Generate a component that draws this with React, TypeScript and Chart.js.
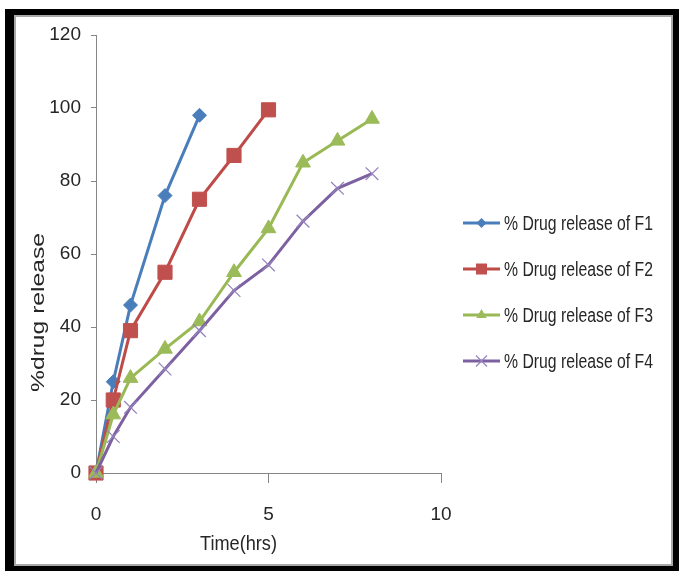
import React, { useEffect, useRef } from 'react';
import { Chart, registerables } from 'chart.js';

Chart.register(...registerables);

// ---------- data ----------
const TIME_F1 = [0, 0.5, 1, 2, 3];
const RELEASE_F1 = [0, 25, 46, 76, 98];
const TIME_F2 = [0, 0.5, 1, 2, 3, 4, 5];
const RELEASE_F2 = [0, 20, 39, 55, 75, 87, 99.5];
const TIME_F3_F4 = [0, 0.5, 1, 2, 3, 4, 5, 6, 7, 8];
const RELEASE_F3 = [0, 16, 26, 34, 41.5, 55, 67, 85, 91, 97];
const RELEASE_F4 = [0, 10, 18, 28.5, 39, 50, 57, 69, 78, 82];
const SERIES_LABELS = [
  '% Drug release of F1',
  '% Drug release of F2',
  '% Drug release of F3',
  '% Drug release of F4',
];
const X_TITLE = 'Time(hrs)';
const Y_TITLE = '%drug release';
const X_RANGE = [0, 10];
const X_STEP = 5;
const Y_RANGE = [0, 120];
const Y_STEP = 20;

// ---------- styles ----------
const COLORS = ['#4A7EBB', '#BE4B48', '#98B954', '#7D60A0'];
const MARKER_FILL = ['#4A7EBB', '#C0504D', '#9BBB59', '#9484BD'];
const MARKERS = ['rectRot', 'rect', 'triangle', 'crossRot'];
const MARKER_R = [7, 10, 8.5, 9];
const TEXT = '#262626';
const AXIS = '#868686';
const SANS = "'Liberation Sans', Arial, sans-serif";
const TICK_FONT = "'Liberation Sans', Arial, sans-serif";

function pts(xs: number[], ys: number[]) {
  return xs.map((x, i) => ({ x, y: ys[i] }));
}

function drawLegendMarker(ctx: CanvasRenderingContext2D, kind: string, x: number, y: number, color: string) {
  ctx.save();
  ctx.fillStyle = color;
  ctx.strokeStyle = color;
  ctx.beginPath();
  if (kind === 'rectRot') {
    const r = 5;
    ctx.moveTo(x, y - r);
    ctx.lineTo(x + r, y);
    ctx.lineTo(x, y + r);
    ctx.lineTo(x - r, y);
    ctx.closePath();
    ctx.fill();
  } else if (kind === 'rect') {
    const s = 5.5;
    ctx.rect(x - s, y - s, 2 * s, 2 * s);
    ctx.fill();
  } else if (kind === 'triangle') {
    const r = 6;
    ctx.moveTo(x, y - r);
    ctx.lineTo(x + r * 0.866, y + r * 0.5);
    ctx.lineTo(x - r * 0.866, y + r * 0.5);
    ctx.closePath();
    ctx.fill();
  } else {
    const s = 5.5;
    ctx.lineWidth = 1.2;
    ctx.moveTo(x - s, y - s);
    ctx.lineTo(x + s, y + s);
    ctx.moveTo(x + s, y - s);
    ctx.lineTo(x - s, y + s);
    ctx.stroke();
  }
  ctx.restore();
}

const textPlugin = {
  id: 'excelText',
  afterDraw(chart: any) {
    const ctx: CanvasRenderingContext2D = chart.ctx;
    const area = chart.chartArea;
    ctx.save();
    ctx.fillStyle = TEXT;

    // Y title (rotated, stretched along its length)
    ctx.font = `18px ${SANS}`;
    const yw = ctx.measureText(Y_TITLE).width;
    ctx.save();
    ctx.translate(44, area.top + 277.5);
    ctx.rotate(-Math.PI / 2);
    ctx.scale(159 / yw, 1);
    ctx.textAlign = 'center';
    ctx.textBaseline = 'alphabetic';
    ctx.fillText(Y_TITLE, 0, 0);
    ctx.restore();

    // X title
    ctx.font = `21px ${SANS}`;
    const xw = ctx.measureText(X_TITLE).width;
    ctx.save();
    ctx.translate(238.5, area.bottom + 77);
    ctx.scale(77 / xw, 1);
    ctx.textAlign = 'center';
    ctx.textBaseline = 'alphabetic';
    ctx.fillText(X_TITLE, 0, 0);
    ctx.restore();

    // Legend
    ctx.font = `20px ${SANS}`;
    const lw = ctx.measureText(SERIES_LABELS[0]).width;
    const sx = 149 / lw;
    chart.data.datasets.forEach((ds: any, i: number) => {
      const y = area.top + 188 + i * 46;
      const x0 = area.right + 22;
      ctx.save();
      ctx.strokeStyle = ds.borderColor;
      ctx.lineWidth = 3;
      ctx.beginPath();
      ctx.moveTo(x0, y);
      ctx.lineTo(x0 + 37, y);
      ctx.stroke();
      ctx.restore();
      drawLegendMarker(ctx, ds.pointStyle, x0 + 18.5, y, ds.pointBackgroundColor);
      ctx.save();
      ctx.translate(x0 + 41, y + 7);
      ctx.scale(sx, 1);
      ctx.fillStyle = TEXT;
      ctx.textAlign = 'left';
      ctx.textBaseline = 'alphabetic';
      ctx.fillText(ds.label, 0, 0);
      ctx.restore();
    });
    ctx.restore();
  },
};

function makeDataset(i: number, data: { x: number; y: number }[], order: number) {
  const cross = MARKERS[i] === 'crossRot';
  return {
    label: SERIES_LABELS[i],
    data,
    borderColor: COLORS[i],
    backgroundColor: COLORS[i],
    borderWidth: 3,
    tension: 0,
    pointStyle: MARKERS[i],
    pointRadius: MARKER_R[i],
    pointBackgroundColor: MARKER_FILL[i],
    pointBorderColor: MARKER_FILL[i],
    pointBorderWidth: cross ? 1.3 : 1,
    pointHoverRadius: MARKER_R[i],
    clip: false,
    order,
  };
}

export default function App() {
  const ref = useRef<HTMLCanvasElement | null>(null);

  useEffect(() => {
    if (!ref.current) return;
    const chart = new Chart(ref.current, {
      type: 'line',
      data: {
        datasets: [
          makeDataset(0, pts(TIME_F1, RELEASE_F1), 3),
          makeDataset(1, pts(TIME_F2, RELEASE_F2), 2),
          makeDataset(2, pts(TIME_F3_F4, RELEASE_F3), 1),
          makeDataset(3, pts(TIME_F3_F4, RELEASE_F4), 0),
        ],
      },
      options: {
        responsive: false,
        animation: false,
        devicePixelRatio: 1,
        layout: { padding: { left: 0, top: 35, right: 238, bottom: 0 } },
        plugins: {
          legend: { display: false },
          tooltip: { enabled: false },
          title: { display: false },
        },
        scales: {
          x: {
            type: 'linear',
            min: X_RANGE[0],
            max: X_RANGE[1],
            afterFit: (s: any) => {
              s.height = 98;
            },
            ticks: {
              stepSize: X_STEP,
              padding: 20,
              color: TEXT,
              font: { family: TICK_FONT, size: 19 },
              maxRotation: 0,
            },
            grid: {
              drawOnChartArea: false,
              drawTicks: true,
              tickLength: 10,
              color: AXIS,
              lineWidth: 1,
            },
            border: { color: AXIS, width: 1 },
          },
          y: {
            type: 'linear',
            min: Y_RANGE[0],
            max: Y_RANGE[1],
            afterFit: (s: any) => {
              s.width = 96;
            },
            ticks: {
              stepSize: Y_STEP,
              padding: 10,
              color: TEXT,
              font: { family: TICK_FONT, size: 19 },
            },
            grid: {
              drawOnChartArea: false,
              drawTicks: true,
              tickLength: 5,
              color: AXIS,
              lineWidth: 1,
            },
            border: { color: AXIS, width: 1 },
          },
        },
      } as any,
      plugins: [textPlugin],
    });
    return () => chart.destroy();
  }, []);

  return (
    <div style={{ position: 'absolute', left: 0, top: 0, width: 679, height: 571, background: '#fff', overflow: 'hidden' }}>
      <canvas ref={ref} width={679} height={571} style={{ position: 'absolute', left: 0, top: 0 }} />
      <div
        style={{
          position: 'absolute',
          left: 5,
          top: 9,
          width: 674,
          height: 562,
          boxSizing: 'border-box',
          borderStyle: 'solid',
          borderColor: '#000',
          borderLeftWidth: 9,
          borderTopWidth: 6,
          borderRightWidth: 6,
          borderBottomWidth: 5,
          boxShadow: 'inset 0 0 0 2px #a8a8a8',
          pointerEvents: 'none',
        }}
      />
    </div>
  );
}
